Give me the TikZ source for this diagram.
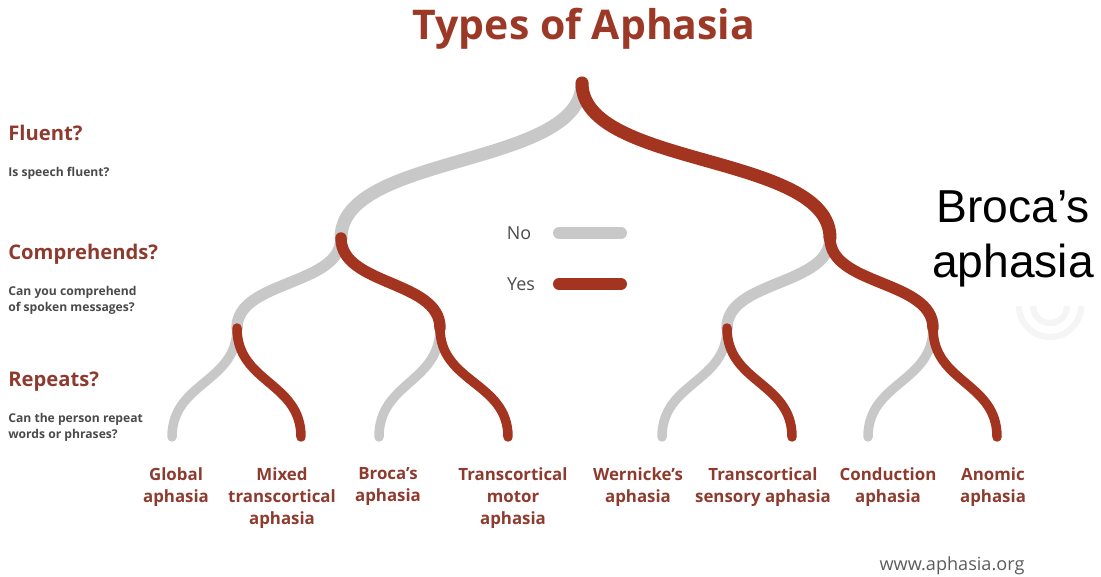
\documentclass[tikz,border=0pt]{standalone}
\usepackage{fontspec}
\setmainfont{Open Sans}
\newfontfamily\slidefont{Liberation Sans}
\definecolor{aphred}{HTML}{A3341F}
\definecolor{aphgrey}{HTML}{C8C8C8}
\definecolor{labred}{HTML}{8E3B2F}
\definecolor{titlered}{HTML}{9C3826}
\definecolor{darktext}{HTML}{4A4A4A}
\tikzset{
  no/.style={draw=aphgrey, line cap=round},
  yes/.style={draw=aphred, line cap=round},
  question/.style={anchor=base west, inner sep=0pt, text=labred, font=\bfseries\fontsize{11.5}{14}\selectfont},
  hint/.style={anchor=north west, inner sep=0pt, align=left, text=darktext, font=\bfseries\fontsize{6.9}{9.1}\selectfont},
  kind/.style={anchor=north, inner sep=0pt, align=center, text=labred, font=\bfseries\fontsize{9.6}{12.5}\selectfont},
  key/.style={inner sep=0pt, text=darktext, font=\fontsize{10.2}{12}\selectfont},
}

\begin{document}
\begin{tikzpicture}[x=0.02cm, y=-0.02cm]
  \useasboundingbox (0,0) rectangle (1101,577);

  % branching points
  \coordinate (top) at (582,83);
  \coordinate (n) at (341,238);
  \coordinate (y) at (830,238);
  \coordinate (nn) at (237,328);
  \coordinate (ny) at (440,328);
  \coordinate (yn) at (727,328);
  \coordinate (yy) at (933,328);
  % leaves
  \coordinate (nnn) at (172,437);
  \coordinate (nny) at (301,437);
  \coordinate (nyn) at (379,437);
  \coordinate (nyy) at (508,437);
  \coordinate (ynn) at (662,437);
  \coordinate (yny) at (792,437);
  \coordinate (yyn) at (868,437);
  \coordinate (yyy) at (997,437);

  % watermark
  \draw[gray!8, line width=3.6pt] (1081,306) arc[start angle=0, end angle=180, radius=31];
  \draw[gray!8, line width=3.6pt] (1067,306) arc[start angle=0, end angle=180, radius=17];

  % no first, yes on top
  \foreach \a/\b/\w/\d in {top/n/7.4/85, n/nn/6.5/48, y/yn/6.5/48, nn/nnn/5.4/55,
      ny/nyn/5.4/55, yn/ynn/5.4/55, yy/yyn/5.4/55}
    \draw[no, line width=\w pt] (\a) .. controls +(0,\d) and +(0,-\d) .. (\b);
  \foreach \a/\b/\w/\d in {top/y/7.4/85, n/ny/6.5/48, y/yy/6.5/48, nn/nny/5.4/55,
      ny/nyy/5.4/55, yn/yny/5.4/55, yy/yyy/5.4/55}
    \draw[yes, line width=\w pt] (\a) .. controls +(0,\d) and +(0,-\d) .. (\b);

  \node[anchor=base, inner sep=0pt, text=titlered, font=\bfseries\fontsize{23.3}{28}\selectfont]
    (title) at (584,39.5) {Types of Aphasia};

  \node[question] (fluent) at (8,140.5) {Fluent?};
  \node[hint] (fluenthint) at (8,166.5) {Is speech fluent?};
  \node[question] (compr) at (8,259.5) {Comprehends?};
  \node[hint] (comprhint) at (8,285.5) {Can you comprehend\\of spoken messages?};
  \node[question] (rep) at (8,386.5) {Repeats?};
  \node[hint] (rephint) at (8,412.5) {Can the person repeat\\words or phrases?};

  % legend
  \node[key] (nokey) at (519,233) {No};
  \node[key] (yeskey) at (521,284) {Yes};
  \draw[no, line width=6.8pt] (559,233) -- (621,233);
  \draw[yes, line width=6.8pt] (559,284) -- (621,284);

  \node[kind] (global) at (176,467) {Global\\aphasia};
  \node[kind] (mixed) at (282,467) {Mixed\\transcortical\\aphasia};
  \node[kind] (broca) at (388,467) {Broca’s\\aphasia};
  \node[kind] (tmotor) at (513,467) {Transcortical\\motor\\aphasia};
  \node[kind] (wernicke) at (638,467) {Wernicke’s\\aphasia};
  \node[kind] (tsensory) at (763,467) {Transcortical\\sensory aphasia};
  \node[kind] (conduction) at (888,467) {Conduction\\aphasia};
  \node[kind] (anomic) at (993,467) {Anomic\\aphasia};

  \node[anchor=north, inner sep=0pt, align=center, font=\slidefont\fontsize{26.3}{31.5}\selectfont]
    (answer) at (1013,190) {Broca’s\\aphasia};

  \node[anchor=base, inner sep=0pt, text=darktext!90, font=\fontsize{10.3}{12}\selectfont]
    (site) at (952,570) {www.aphasia.org};
\end{tikzpicture}
\end{document}
